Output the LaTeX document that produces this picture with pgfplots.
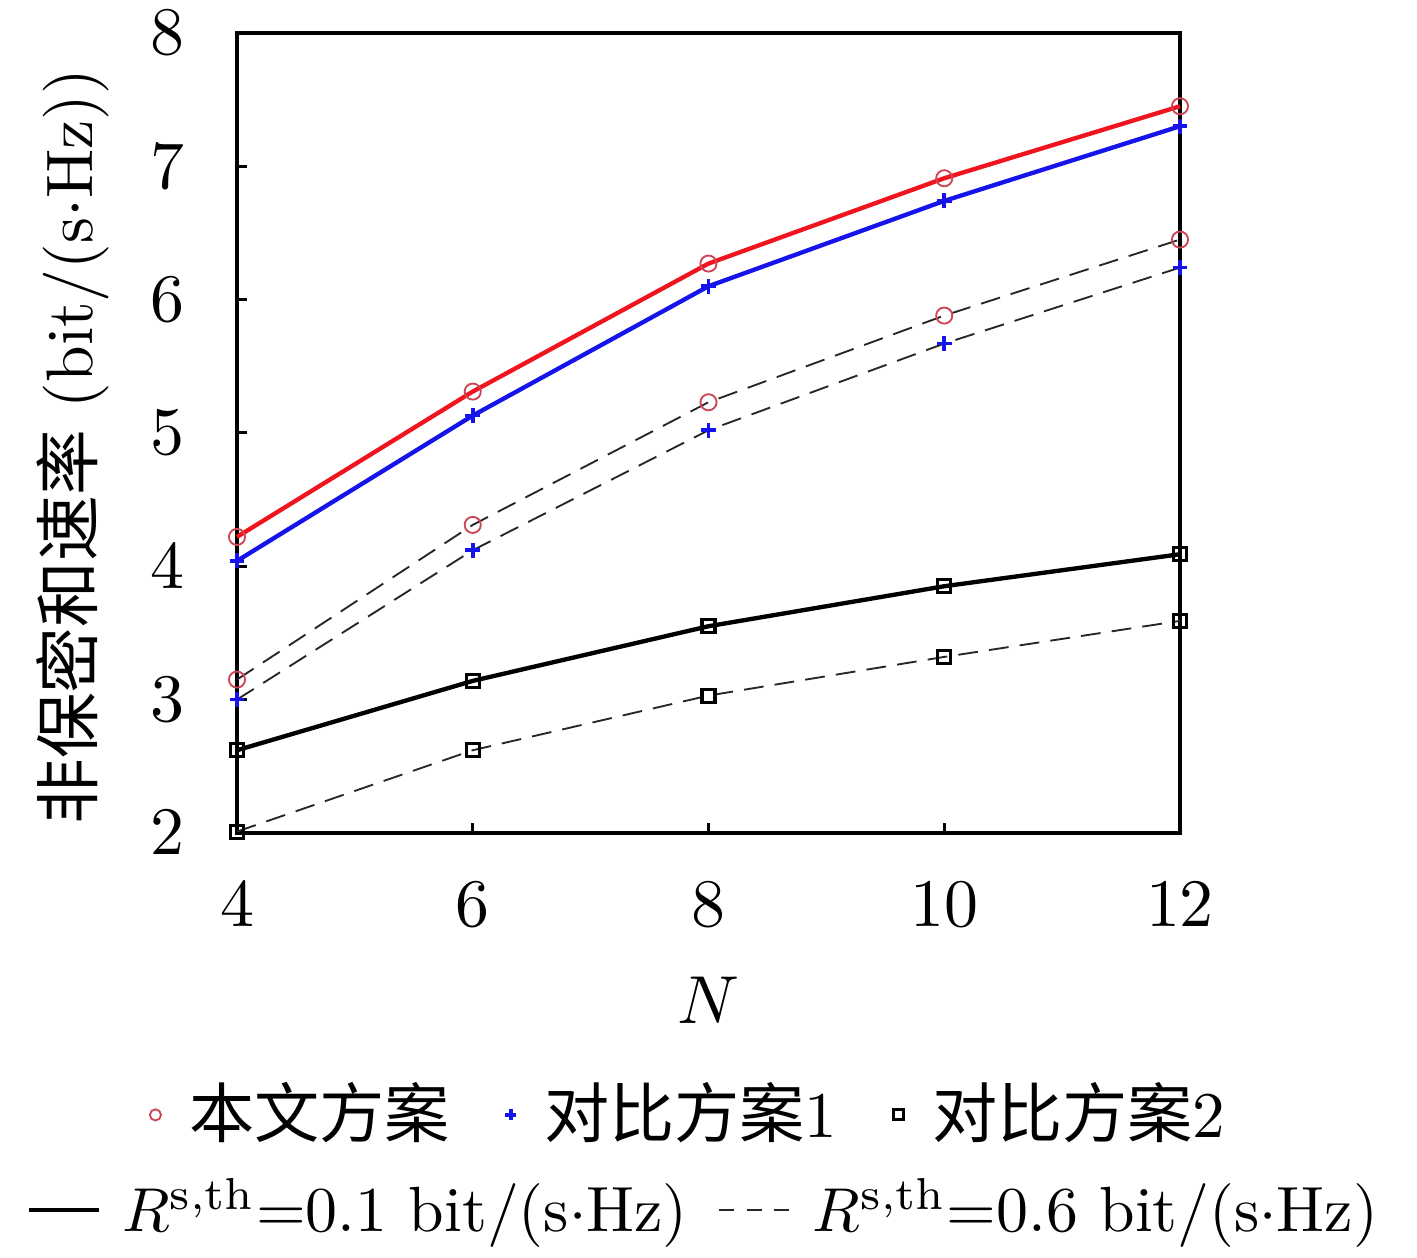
\documentclass[border=0pt]{standalone}
\usepackage{pgfplots}
\pgfplotsset{compat=1.18}
\usepackage{pgfplotstable}
\usepackage{fontspec}
\newfontfamily\cjk{Noto Sans CJK SC}
\definecolor{myred}{RGB}{240,20,30}
\definecolor{cred}{RGB}{205,70,85}
\definecolor{myblue}{RGB}{20,20,235}

\pgfplotstableread{
N  a    b    c
4  4.22 4.04 2.62
6  5.31 5.13 3.14
8  6.27 6.10 3.55
10 6.91 6.74 3.85
12 7.45 7.30 4.09
}\solid
\pgfplotstableread{
N  a    b    c
4  3.15 3.00 2.01
6  4.31 4.12 2.62
8  5.23 5.02 3.03
10 5.88 5.67 3.32
12 6.45 6.24 3.59
}\dashed

\begin{document}
\begin{tikzpicture}
\begin{axis}[
  scale only axis, width=152pt, height=128.95pt,
  xmin=4, xmax=12, ymin=2, ymax=8,
  xtick={4,6,8,10,12}, ytick={2,3,4,5,6,7,8},
  xtick pos=bottom, ytick pos=left,
  tick align=inside, major tick length=1.6pt,
  axis line style={line width=0.6pt},
  tick style={line width=0.5pt, black},
  ticklabel style={font=\fontsize{11.3}{13}\selectfont},
  xticklabel style={yshift=-4.5pt},
  yticklabel style={xshift=-5pt},
  xlabel={$N$}, ylabel={{\cjk 非保密和速率} (bit/(s$\cdot$Hz))},
  xlabel style={at={(axis description cs:0.5,0)}, anchor=center, yshift=-27pt, font=\fontsize{11}{13}\selectfont},
  ylabel style={at={(axis description cs:0,0.4825)}, anchor=center, rotate=0, yshift=26.5pt, font=\fontsize{10.6}{12}\selectfont},
  clip=false,
  legend columns=3,
  legend style={at={(axis description cs:0.478,-0.3525)}, anchor=center,
    draw=none, fill=none, inner sep=0pt, font=\fontsize{10.5}{12}\selectfont,
    /tikz/every even column/.append style={column sep=5pt}},
  legend image code/.code={\path[draw=none] (0cm,0cm) -- (0.22cm,0cm); \draw[#1] plot coordinates {(0.1cm,0cm)};},
]
% dashed
\addplot[forget plot, black!85, line width=0.3pt, dash pattern=on 3.2pt off 1.8pt, mark=o, mark size=1.3pt, mark options={draw=cred, solid, line width=0.3pt}] table[x=N,y=a] {\dashed};
\addplot[forget plot, black!85, line width=0.3pt, dash pattern=on 3.2pt off 1.8pt, mark=+, mark size=1.2pt, mark options={draw=myblue, solid, line width=0.6pt}] table[x=N,y=b] {\dashed};
\addplot[forget plot, black!85, line width=0.3pt, dash pattern=on 3.2pt off 1.8pt, mark=square, mark size=1.05pt, mark options={draw=black, solid, line width=0.5pt}] table[x=N,y=c] {\dashed};
% solid
\addplot[forget plot, myblue, line width=0.7pt, mark=+, mark size=1.2pt, mark options={draw=myblue, line width=0.6pt}] table[x=N,y=b] {\solid};
\addplot[forget plot, myred, line width=0.7pt, mark=o, mark size=1.3pt, mark options={draw=cred, line width=0.3pt}] table[x=N,y=a] {\solid};
\addplot[forget plot, black, line width=0.7pt, mark=square, mark size=1.05pt, mark options={draw=black, line width=0.5pt}] table[x=N,y=c] {\solid};
% legend row 1
\addlegendimage{only marks, mark=o, mark size=0.9pt, draw=cred, line width=0.3pt}
\addlegendentry{{\cjk 本文方案}}
\addlegendimage{only marks, mark=+, mark size=0.9pt, draw=myblue, line width=0.6pt}
\addlegendentry{{\cjk 对比方案}1}
\addlegendimage{only marks, mark=square, mark size=0.8pt, draw=black, line width=0.5pt}
\addlegendentry{{\cjk 对比方案}2}
\coordinate (bl) at (axis description cs:0,0);
\coordinate (tr) at (axis description cs:1,1);
\end{axis}
\begin{axis}[
  scale only axis, width=152pt, height=128.95pt,
  xmin=0, xmax=1, ymin=0, ymax=1, hide axis,
  legend columns=2,
  legend style={at={(axis description cs:0.5,-0.471)}, anchor=center,
    draw=none, fill=none, inner sep=0pt, font=\fontsize{10.3}{12}\selectfont,
    /tikz/every even column/.append style={column sep=3pt}},
  legend image code/.code={\draw[#1] (0cm,0cm) -- (0.4cm,0cm); \path[draw=none] (0.4cm,0cm) -- (0.46cm,0cm);},
]
\addlegendimage{black, line width=0.7pt}
\addlegendentry{$R^{\mathrm{s,th}}$=0.1 bit/(s$\cdot$Hz)}
\addlegendimage{black!85, line width=0.3pt, dash pattern=on 2.4pt off 2pt}
\addlegendentry{$R^{\mathrm{s,th}}$=0.6 bit/(s$\cdot$Hz)}
\end{axis}
\pgfresetboundingbox
\path ([xshift=-38.2pt,yshift=-68.5pt]bl) rectangle ([xshift=38.2pt,yshift=5.3pt]tr);
\end{tikzpicture}
\end{document}
